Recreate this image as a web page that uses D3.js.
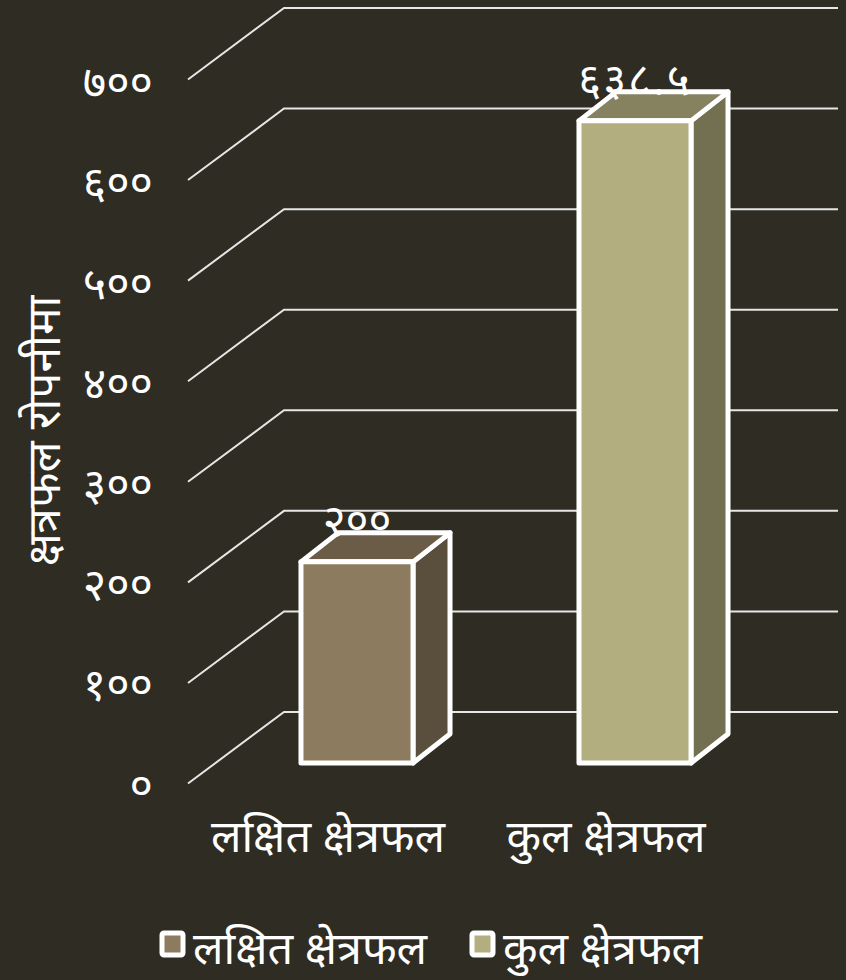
<!DOCTYPE html>
<html>
<head>
<meta charset="utf-8">
<script src="https://cdn.jsdelivr.net/npm/d3@7"></script>
<style>
  html, body { margin: 0; padding: 0; background: #2e2c23; }
  text { fill: #fff; font-family: "Noto Sans Devanagari", "Lohit Devanagari", "Noto Sans", sans-serif; }
</style>
</head>
<body>
<div id="chart"></div>
<script>
const categories = ["लक्षित क्षेत्रफल", "कुल क्षेत्रफल"];
const values = [200, 638.5];
const valueLabels = ["२००", "६३८.५"];
const yTicks = [0, 100, 200, 300, 400, 500, 600, 700];
const yTickLabels = ["०", "१००", "२००", "३००", "४००", "५००", "६००", "७००"];
const yTitle = "क्षत्रफल रोपनीमा";
const faceColors = ["#8c7b5e", "#b3ae80"];
const topColors = ["#6b5c48", "#868260"];
const sideColors = ["#5a4f3c", "#737051"];

const width = 846, height = 980;

const svg = d3.select("#chart").append("svg")
  .attr("width", width)
  .attr("height", height);

// back wall scale, everything else is shifted from it
const y = d3.scaleLinear().domain([0, 700]).range([712, 8]);
const x = d3.scaleBand().domain(categories).range([218, 774]).paddingInner(0.597).paddingOuter(0.2985);

const wallX = 284, wallRight = 838;
const floorDx = 96, floorDy = 71;
const barBaseOffset = 51;
const depthX = 37, depthY = 29;

// Grid lines on back wall and side wall
const grid = svg.append("g").attr("class", "grid")
  .attr("fill", "none")
  .attr("stroke", "#e6e6e4")
  .attr("stroke-width", 2);

grid.selectAll("path").data(yTicks).join("path")
  .attr("d", d => `M${wallX - floorDx},${y(d) + floorDy + 0.5}L${wallX},${y(d)}H${wallRight}`);

// Bars
const bars = svg.append("g").attr("class", "bars")
  .attr("stroke", "#fff")
  .attr("stroke-width", 5)
  .attr("stroke-linejoin", "round");

const barTop = v => y(v) + barBaseOffset;
const barBase = barTop(0);

bars.selectAll("path.side").data(values).join("path")
  .attr("class", "side")
  .attr("fill", (d, i) => sideColors[i])
  .attr("d", (d, i) => {
    const r = x(categories[i]) + x.bandwidth();
    return `M${r},${barTop(d)}l${depthX},${-depthY}V${barBase - depthY}l${-depthX},${depthY}Z`;
  });

bars.selectAll("path.top").data(values).join("path")
  .attr("class", "top")
  .attr("fill", (d, i) => topColors[i])
  .attr("d", (d, i) => {
    const l = x(categories[i]);
    return `M${l},${barTop(d)}l${depthX},${-depthY}h${x.bandwidth()}l${-depthX},${depthY}Z`;
  });

bars.selectAll("rect").data(values).join("rect")
  .attr("fill", (d, i) => faceColors[i])
  .attr("x", (d, i) => x(categories[i]))
  .attr("y", d => barTop(d))
  .attr("width", x.bandwidth())
  .attr("height", d => barBase - barTop(d));

// Data labels
svg.append("g").selectAll("text").data(values).join("text")
  .attr("x", (d, i) => x(categories[i]) + x.bandwidth() / 2)
  .attr("y", d => barTop(d) - 26)
  .attr("text-anchor", "middle")
  .attr("font-size", 44)
  .attr("letter-spacing", (d, i) => i ? 2 : 0)
  .text((d, i) => valueLabels[i]);

// Value axis
const yFront = d3.scaleLinear().domain([0, 700]).range([y(0) + floorDy, y(700) + floorDy + 1]);
const yAxis = svg.append("g")
  .attr("transform", "translate(153,3)")
  .call(d3.axisLeft(yFront).tickValues(yTicks).tickSize(0).tickPadding(0)
    .tickFormat((d, i) => yTickLabels[i]));
yAxis.select(".domain").remove();
yAxis.selectAll("text")
  .attr("font-size", 45)
  .style("font-family", null)
  .attr("fill", null);

svg.append("text")
  .attr("transform", "translate(60,431) rotate(-90)")
  .attr("text-anchor", "middle")
  .attr("font-size", 46)
  .text(yTitle);

// Category labels
svg.append("g").selectAll("text").data(categories).join("text")
  .attr("x", d => x(d) + x.bandwidth() / 2 - 29)
  .attr("y", 852)
  .attr("text-anchor", "middle")
  .attr("font-size", 45)
  .text(d => d);

// Legend
const legendX = [160, 470];
const legend = svg.append("g").selectAll("g").data(categories).join("g")
  .attr("transform", (d, i) => `translate(${legendX[i]},0)`);

legend.append("rect")
  .attr("x", 2).attr("y", 933)
  .attr("width", 21).attr("height", 22)
  .attr("rx", 2)
  .attr("fill", (d, i) => faceColors[i])
  .attr("stroke", "#fff")
  .attr("stroke-width", 5)
  .attr("stroke-linejoin", "round");

legend.append("text")
  .attr("x", 33)
  .attr("y", 964)
  .attr("font-size", 45)
  .text(d => d);
</script>
</body>
</html>
